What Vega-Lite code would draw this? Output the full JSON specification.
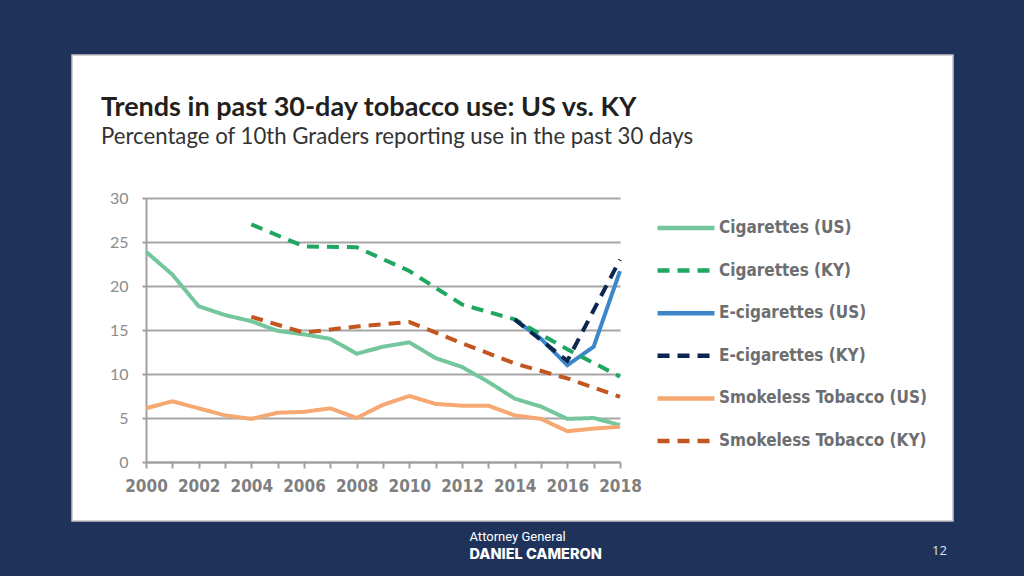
{
  "$schema": "https://vega.github.io/schema/vega-lite/v6.json",
  "width": 881,
  "height": 466,
  "autosize": {"type": "none"},
  "padding": {"left": 72, "top": 55, "right": 71, "bottom": 55},
  "background": "#1f335a",
  "config": {"view": {"fill": "white", "stroke": "#c4c4c4", "strokeWidth": 1.5}},
  "title": {
    "text": "Trends in past 30-day tobacco use: US vs. KY",
    "subtitle": "Percentage of 10th Graders reporting use in the past 30 days",
    "anchor": "start",
    "frame": "group",
    "orient": "top",
    "offset": -94,
    "dx": 29,
    "font": "Lato",
    "fontSize": 27,
    "fontWeight": "bold",
    "color": "#231f20",
    "subtitleFont": "Lato",
    "subtitleFontSize": 22.2,
    "subtitleFontWeight": "normal",
    "subtitleColor": "#333333",
    "subtitlePadding": 4
  },
  "datasets": {
    "us": [
      {"year": 2000, "series": "Cigarettes (US)", "value": 23.9},
      {"year": 2001, "series": "Cigarettes (US)", "value": 21.3},
      {"year": 2002, "series": "Cigarettes (US)", "value": 17.7},
      {"year": 2003, "series": "Cigarettes (US)", "value": 16.7},
      {"year": 2004, "series": "Cigarettes (US)", "value": 16.0},
      {"year": 2005, "series": "Cigarettes (US)", "value": 14.9},
      {"year": 2006, "series": "Cigarettes (US)", "value": 14.5},
      {"year": 2007, "series": "Cigarettes (US)", "value": 14.0},
      {"year": 2008, "series": "Cigarettes (US)", "value": 12.3},
      {"year": 2009, "series": "Cigarettes (US)", "value": 13.1},
      {"year": 2010, "series": "Cigarettes (US)", "value": 13.6},
      {"year": 2011, "series": "Cigarettes (US)", "value": 11.8},
      {"year": 2012, "series": "Cigarettes (US)", "value": 10.8},
      {"year": 2013, "series": "Cigarettes (US)", "value": 9.1},
      {"year": 2014, "series": "Cigarettes (US)", "value": 7.2},
      {"year": 2015, "series": "Cigarettes (US)", "value": 6.3},
      {"year": 2016, "series": "Cigarettes (US)", "value": 4.9},
      {"year": 2017, "series": "Cigarettes (US)", "value": 5.0},
      {"year": 2018, "series": "Cigarettes (US)", "value": 4.2},
      {"year": 2014, "series": "E-cigarettes (US)", "value": 16.2},
      {"year": 2015, "series": "E-cigarettes (US)", "value": 14.0},
      {"year": 2016, "series": "E-cigarettes (US)", "value": 11.0},
      {"year": 2017, "series": "E-cigarettes (US)", "value": 13.1},
      {"year": 2018, "series": "E-cigarettes (US)", "value": 21.7},
      {"year": 2000, "series": "Smokeless Tobacco (US)", "value": 6.1},
      {"year": 2001, "series": "Smokeless Tobacco (US)", "value": 6.9},
      {"year": 2002, "series": "Smokeless Tobacco (US)", "value": 6.1},
      {"year": 2003, "series": "Smokeless Tobacco (US)", "value": 5.3},
      {"year": 2004, "series": "Smokeless Tobacco (US)", "value": 4.9},
      {"year": 2005, "series": "Smokeless Tobacco (US)", "value": 5.6},
      {"year": 2006, "series": "Smokeless Tobacco (US)", "value": 5.7},
      {"year": 2007, "series": "Smokeless Tobacco (US)", "value": 6.1},
      {"year": 2008, "series": "Smokeless Tobacco (US)", "value": 5.0},
      {"year": 2009, "series": "Smokeless Tobacco (US)", "value": 6.5},
      {"year": 2010, "series": "Smokeless Tobacco (US)", "value": 7.5},
      {"year": 2011, "series": "Smokeless Tobacco (US)", "value": 6.6},
      {"year": 2012, "series": "Smokeless Tobacco (US)", "value": 6.4},
      {"year": 2013, "series": "Smokeless Tobacco (US)", "value": 6.4},
      {"year": 2014, "series": "Smokeless Tobacco (US)", "value": 5.3},
      {"year": 2015, "series": "Smokeless Tobacco (US)", "value": 4.9},
      {"year": 2016, "series": "Smokeless Tobacco (US)", "value": 3.5},
      {"year": 2017, "series": "Smokeless Tobacco (US)", "value": 3.8},
      {"year": 2018, "series": "Smokeless Tobacco (US)", "value": 4.0}
    ],
    "ky": [
      {"year": 2004, "series": "Cigarettes (KY)", "value": 27.0},
      {"year": 2006, "series": "Cigarettes (KY)", "value": 24.5},
      {"year": 2008, "series": "Cigarettes (KY)", "value": 24.4},
      {"year": 2010, "series": "Cigarettes (KY)", "value": 21.7},
      {"year": 2012, "series": "Cigarettes (KY)", "value": 17.9},
      {"year": 2014, "series": "Cigarettes (KY)", "value": 16.2},
      {"year": 2016, "series": "Cigarettes (KY)", "value": 12.8},
      {"year": 2018, "series": "Cigarettes (KY)", "value": 9.7},
      {"year": 2014, "series": "E-cigarettes (KY)", "value": 16.2},
      {"year": 2016, "series": "E-cigarettes (KY)", "value": 11.5},
      {"year": 2018, "series": "E-cigarettes (KY)", "value": 23.0},
      {"year": 2004, "series": "Smokeless Tobacco (KY)", "value": 16.5},
      {"year": 2006, "series": "Smokeless Tobacco (KY)", "value": 14.7},
      {"year": 2008, "series": "Smokeless Tobacco (KY)", "value": 15.4},
      {"year": 2010, "series": "Smokeless Tobacco (KY)", "value": 15.9},
      {"year": 2012, "series": "Smokeless Tobacco (KY)", "value": 13.5},
      {"year": 2014, "series": "Smokeless Tobacco (KY)", "value": 11.2},
      {"year": 2016, "series": "Smokeless Tobacco (KY)", "value": 9.5},
      {"year": 2018, "series": "Smokeless Tobacco (KY)", "value": 7.4}
    ]
  },
  "encoding": {
    "x": {
      "field": "year",
      "type": "quantitative",
      "scale": {"domain": [2000, 2018], "range": [74, 548], "nice": false, "zero": false},
      "axis": {
        "values": [2000, 2001, 2002, 2003, 2004, 2005, 2006, 2007, 2008, 2009, 2010, 2011, 2012, 2013, 2014, 2015, 2016, 2017, 2018],
        "format": "d",
        "labelExpr": "datum.value % 2 == 0 ? datum.label : ''",
        "offset": -59,
        "grid": false,
        "domainColor": "#a0a0a0",
        "domainWidth": 2,
        "tickColor": "#a0a0a0",
        "tickWidth": 2,
        "tickSize": 6,
        "labelFont": "'Liberation Sans Narrow', 'DejaVu Sans Condensed', 'Roboto Condensed', Roboto, sans-serif",
        "labelFontWeight": "bold",
        "labelFontSize": 17,
        "labelColor": "#7f7f7f",
        "labelPadding": 10,
        "labelFlush": false,
        "labelOverlap": false,
        "title": "DANIEL CAMERON",
        "titleFont": "Inter",
        "titleFontWeight": 800,
        "titleFontSize": 14.5,
        "titleColor": "#ffffff",
        "titleX": 397,
        "titleY": 96,
        "titleAlign": "left",
        "titleBaseline": "alphabetic"
      }
    },
    "color": {
      "field": "series",
      "type": "nominal",
      "scale": {
        "domain": ["Cigarettes (US)", "Cigarettes (KY)", "E-cigarettes (US)", "E-cigarettes (KY)", "Smokeless Tobacco (US)", "Smokeless Tobacco (KY)"],
        "range": ["#74c69d", "#1fa761", "#3b87c9", "#0c2650", "#f6a872", "#c2561e"]
      },
      "legend": {
        "orient": "none",
        "legendX": 583,
        "legendY": 142,
        "title": null,
        "symbolType": "stroke",
        "symbolSize": 3249,
        "symbolStrokeWidth": 4.5,
        "labelFont": "'Liberation Sans Narrow', 'DejaVu Sans Condensed', 'Roboto Condensed', Roboto, sans-serif",
        "labelFontWeight": "bold",
        "labelFontSize": 17,
        "labelColor": "#6d6e71",
        "labelOffset": 2,
        "labelLimit": 300,
        "rowPadding": 2.6,
        "padding": 0
      }
    },
    "strokeDash": {
      "field": "series",
      "type": "nominal",
      "scale": {
        "domain": ["Cigarettes (US)", "Cigarettes (KY)", "E-cigarettes (US)", "E-cigarettes (KY)", "Smokeless Tobacco (US)", "Smokeless Tobacco (KY)"],
        "range": [[1, 0], [12, 8], [1, 0], [12, 8], [1, 0], [12, 8]]
      }
    }
  },
  "layer": [
    {
      "data": {"name": "us"},
      "mark": {"type": "line", "strokeWidth": 4, "clip": false},
      "encoding": {
        "y": {
          "field": "value",
          "type": "quantitative",
          "scale": {"domain": [0, 30], "range": [407, 143], "nice": false},
          "axis": {
            "orient": "left",
            "offset": -74,
            "values": [0, 5, 10, 15, 20, 25, 30],
            "grid": true,
            "gridColor": "#a6a6a6",
            "gridWidth": 2,
            "domainColor": "#a0a0a0",
            "domainWidth": 2,
            "tickColor": "#a0a0a0",
            "tickWidth": 2,
            "tickSize": 4,
            "labelFont": "Lato",
            "labelFontSize": 16,
            "labelColor": "#8c8c8c",
            "labelPadding": 14,
            "title": "Attorney General",
            "titleAngle": 0,
            "titleFont": "Roboto",
            "titleFontWeight": "normal",
            "titleFontSize": 13,
            "titleColor": "#ffffff",
            "titleX": 323,
            "titleY": 485,
            "titleAlign": "left",
            "titleBaseline": "alphabetic"
          }
        }
      }
    },
    {
      "data": {"name": "ky"},
      "mark": {"type": "line", "strokeWidth": 4, "clip": false},
      "encoding": {
        "y": {
          "field": "value",
          "type": "quantitative",
          "axis": {
            "orient": "right",
            "labels": false,
            "ticks": false,
            "domain": false,
            "grid": false,
            "title": "12",
            "titleAngle": 0,
            "titleFont": "Open Sans",
            "titleFontWeight": "normal",
            "titleFontSize": 13,
            "titleColor": "#dde4ee",
            "titleX": -14,
            "titleY": 499,
            "titleAlign": "center",
            "titleBaseline": "alphabetic"
          }
        }
      }
    }
  ],
  "resolve": {"axis": {"y": "independent"}}
}
